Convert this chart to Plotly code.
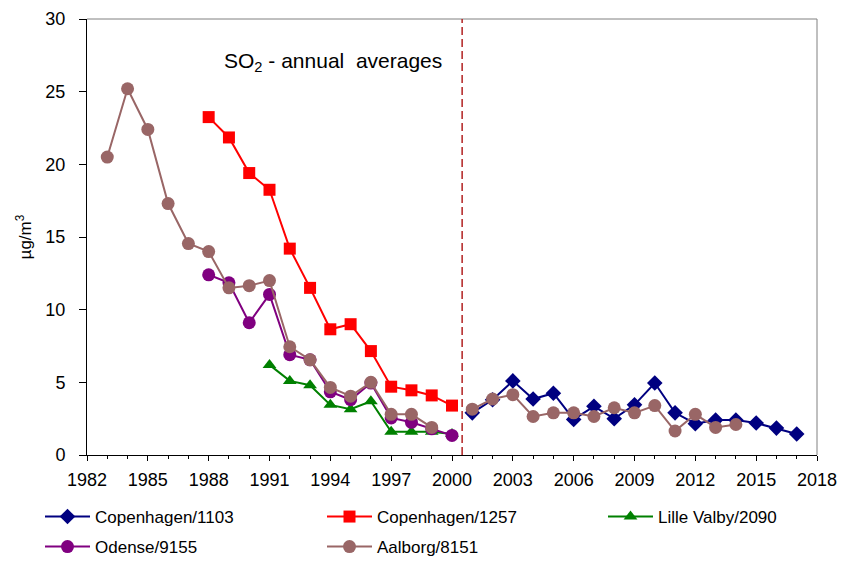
import plotly.graph_objects as go

# ---------------- data ----------------
cph1103_years = list(range(2001, 2018))
cph1103 = [2.9, 3.8, 5.1, 3.85, 4.25, 2.45, 3.35, 2.5, 3.45, 4.95, 2.9, 2.15, 2.4, 2.4, 2.2, 1.85, 1.45]

cph1257_years = list(range(1988, 2001))
cph1257 = [23.25, 21.85, 19.4, 18.25, 14.2, 11.5, 8.65, 9.0, 7.15, 4.7, 4.45, 4.1, 3.4]

lille_years = list(range(1991, 2001))
lille = [6.2, 5.1, 4.8, 3.45, 3.15, 3.7, 1.6, 1.6, 1.6, 1.45]

odense_years = list(range(1988, 2001))
odense = [12.4, 11.85, 9.1, 11.05, 6.9, 6.55, 4.35, 3.8, 4.95, 2.55, 2.25, 1.8, 1.35]

aalborg_years = list(range(1983, 2015))
aalborg = [20.5, 25.2, 22.4, 17.3, 14.55, 14.0, 11.5, 11.65, 12.0, 7.45, 6.55, 4.65, 4.05, 5.0,
           2.8, 2.8, 1.9, None, 3.15, 3.85, 4.15, 2.65, 2.9, 2.9, 2.65, 3.25, 2.9, 3.4, 1.65, 2.8,
           1.9, 2.1]

split_year = 2000.5
x_ticks = list(range(1982, 2019, 3))
y_ticks = [0, 5, 10, 15, 20, 25, 30]

names = ["Copenhagen/1103", "Copenhagen/1257", "Lille Valby/2090", "Odense/9155", "Aalborg/8151"]
colors = ["#000080", "#FF0000", "#008000", "#800080", "#996666"]
symbols = ["diamond", "square", "triangle-up", "circle", "circle"]
sizes = [12, 12, 12, 13, 13]
series_x = [cph1103_years, cph1257_years, lille_years, odense_years, aalborg_years]
series_y = [cph1103, cph1257, lille, odense, aalborg]

FONT = "Liberation Sans, Arial, Helvetica, sans-serif"

# ---------------- layout geometry ----------------
# the page body adds an 8px offset; size the figure so it fits the 850x562 window
BODY = 8
W, H = 850 - BODY, 562 - BODY
ML, MT = 87 - BODY, 19 - BODY
MR = W - (817 - BODY)
MB = H - (455 - BODY)
PW, PH = W - ML - MR, H - MT - MB

legend_cols_px = [40, 322, 603]   # page pixels
legend_rows_px = [517, 547]
legend_slots = [(0, 0), (1, 0), (2, 0), (0, 1), (1, 1)]

fig = go.Figure()

legend_ids = ["legend", "legend2", "legend3", "legend4", "legend5"]
for i in range(5):
    fig.add_trace(go.Scatter(
        x=series_x[i], y=series_y[i], name=names[i], mode="lines+markers",
        line=dict(color=colors[i], width=2),
        marker=dict(symbol=symbols[i], size=sizes[i], color=colors[i],
                    line=dict(width=0)),
        connectgaps=False,
        legend=legend_ids[i],
    ))

layout_legends = {}
for i, lid in enumerate(legend_ids):
    c, r = legend_slots[i]
    px = legend_cols_px[c] - BODY
    py = legend_rows_px[r] - BODY
    layout_legends[lid] = dict(
        x=(px - ML) / PW, y=(MT + PH - py) / PH,
        xanchor="left", yanchor="middle",
        font=dict(family=FONT, size=17, color="black"),
        bgcolor="rgba(0,0,0,0)", borderwidth=0,
        itemwidth=45,
    )

fig.update_layout(
    width=W, height=H,
    margin=dict(l=ML, r=MR, t=MT, b=MB, autoexpand=False),
    paper_bgcolor="white", plot_bgcolor="white",
    font=dict(family=FONT, size=18, color="black"),
    showlegend=True,
    **layout_legends,
)

fig.update_xaxes(
    range=[1982, 2018], tickmode="array", tickvals=x_ticks,
    ticks="outside", ticklen=5, tickwidth=1, tickcolor="black",
    showline=True, linecolor="black", linewidth=1,
    showgrid=False, zeroline=False, automargin=False,
    tickfont=dict(size=18), ticklabelstandoff=3,
    minor=dict(dtick=1, tick0=1982, ticks="outside", ticklen=3, tickcolor="black", showgrid=False),
)
fig.update_yaxes(
    range=[0, 30], tickmode="array", tickvals=y_ticks,
    ticks="outside", ticklen=7, tickwidth=1, tickcolor="black",
    showline=True, linecolor="black", linewidth=1,
    showgrid=False, zeroline=False, automargin=False,
    tickfont=dict(size=18),
    ticklabelstandoff=10,
    title=dict(text="µg/m<sup>3</sup>", font=dict(size=17), standoff=9),
)

# top/right frame in gray
fig.add_shape(type="line", xref="paper", yref="paper", x0=0, x1=1, y0=1, y1=1,
              line=dict(color="#808080", width=1))
fig.add_shape(type="line", xref="paper", yref="paper", x0=1, x1=1, y0=0, y1=1,
              line=dict(color="#808080", width=1))
# dashed separator
fig.add_shape(type="line", xref="x", yref="y", x0=split_year, x1=split_year, y0=0, y1=30,
              line=dict(color="#B22222", width=1.5, dash="8px,4px"))

fig.add_annotation(
    x=1988.65, y=27.05, xref="x", yref="y", xanchor="left", yanchor="middle",
    text="SO<sub>2</sub> - annual \u00a0averages", showarrow=False,
    font=dict(size=21, color="black"),
)

fig.write_html("out.html")
